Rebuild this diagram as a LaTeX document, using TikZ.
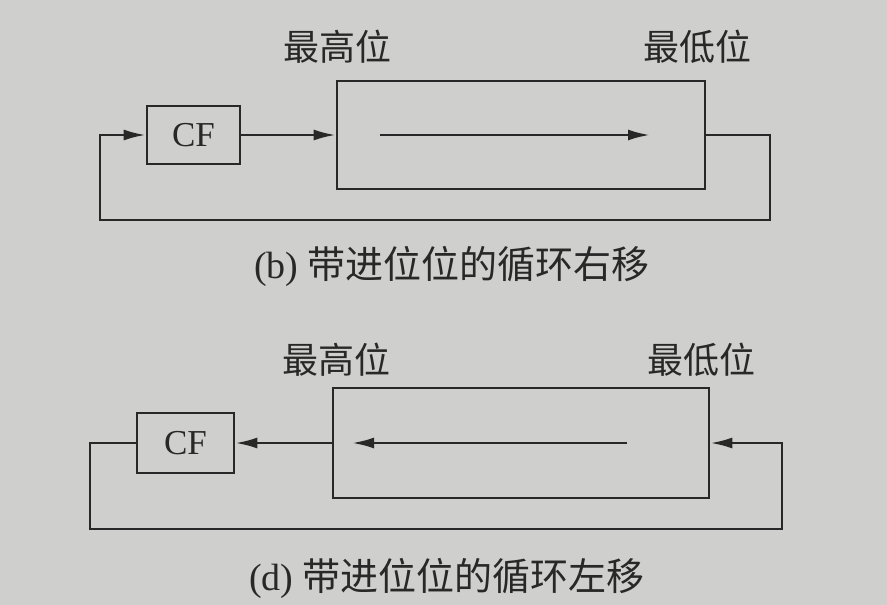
\documentclass[tikz,border=0pt]{standalone}
\usepackage{fontspec}
\setmainfont{Liberation Serif}
\newfontfamily\cjk{Noto Sans CJK SC}
\usetikzlibrary{arrows.meta}

\definecolor{ink}{RGB}{40,40,40}
\definecolor{paper}{RGB}{207,207,205}

\tikzset{
  regbox/.style={draw=ink, line width=2.6pt, minimum width=368pt, minimum height=108pt, inner sep=0pt},
  cfbox/.style={draw=ink, line width=2.6pt, minimum width=93pt, minimum height=58pt, inner sep=0pt,
    text=ink, font=\fontsize{35}{40}\selectfont},
  wire/.style={draw=ink, line width=2.6pt},
  flow/.style={wire, -{Latex[length=22pt,width=11pt]}},
  bitlabel/.style={text=ink, font=\cjk\fontsize{36}{40}\selectfont},
  figcap/.style={text=ink, font=\fontsize{38}{44}\selectfont},
}

\begin{document}
\begin{tikzpicture}[x=1pt,y=-1pt]
                \fill[paper] (0,0) rectangle (887,605);
                \useasboundingbox (0,0) rectangle (887,605);

                % (b) rotate right through carry
                \node[regbox] (regB) at (521,135) {};
                \node[cfbox] (cfB) at (193.5,135) {CF};
                \node[bitlabel] (msbB) at (337,47) {最高位};
                \node[bitlabel] (lsbB) at (697,47) {最低位};
                \coordinate (bLoopR) at (770,220);
                \coordinate (bLoopL) at (100,220);
                \coordinate (bFrom) at (380,135);
                \coordinate (bTo) at (650,135);
                \draw[flow] (cfB) -- (regB);
                \draw[flow] (regB.east) -| (bLoopR) -- (bLoopL) |- (cfB.west);
                \draw[flow] (bFrom) -- (bTo);
                \node[figcap] (capB) at (452,266) {(b) {\cjk 带进位位的循环右移}};

                % (d) rotate left through carry
                \node[regbox, minimum width=376pt, minimum height=110pt] (regD) at (521,443) {};
                \node[cfbox, minimum width=97pt, minimum height=60pt] (cfD) at (185.5,443) {CF};
                \node[bitlabel] (msbD) at (336,360) {最高位};
                \node[bitlabel] (lsbD) at (701,360) {最低位};
                \coordinate (dLoopL) at (90,529);
                \coordinate (dLoopR) at (782,529);
                \coordinate (dFrom) at (627,443);
                \coordinate (dTo) at (352,443);
                \draw[flow] (regD) -- (cfD);
                \draw[flow] (cfD.west) -| (dLoopL) -- (dLoopR) |- (regD.east);
                \draw[flow] (dFrom) -- (dTo);
                \node[figcap] (capD) at (447,578) {(d) {\cjk 带进位位的循环左移}};
\end{tikzpicture}
\end{document}
